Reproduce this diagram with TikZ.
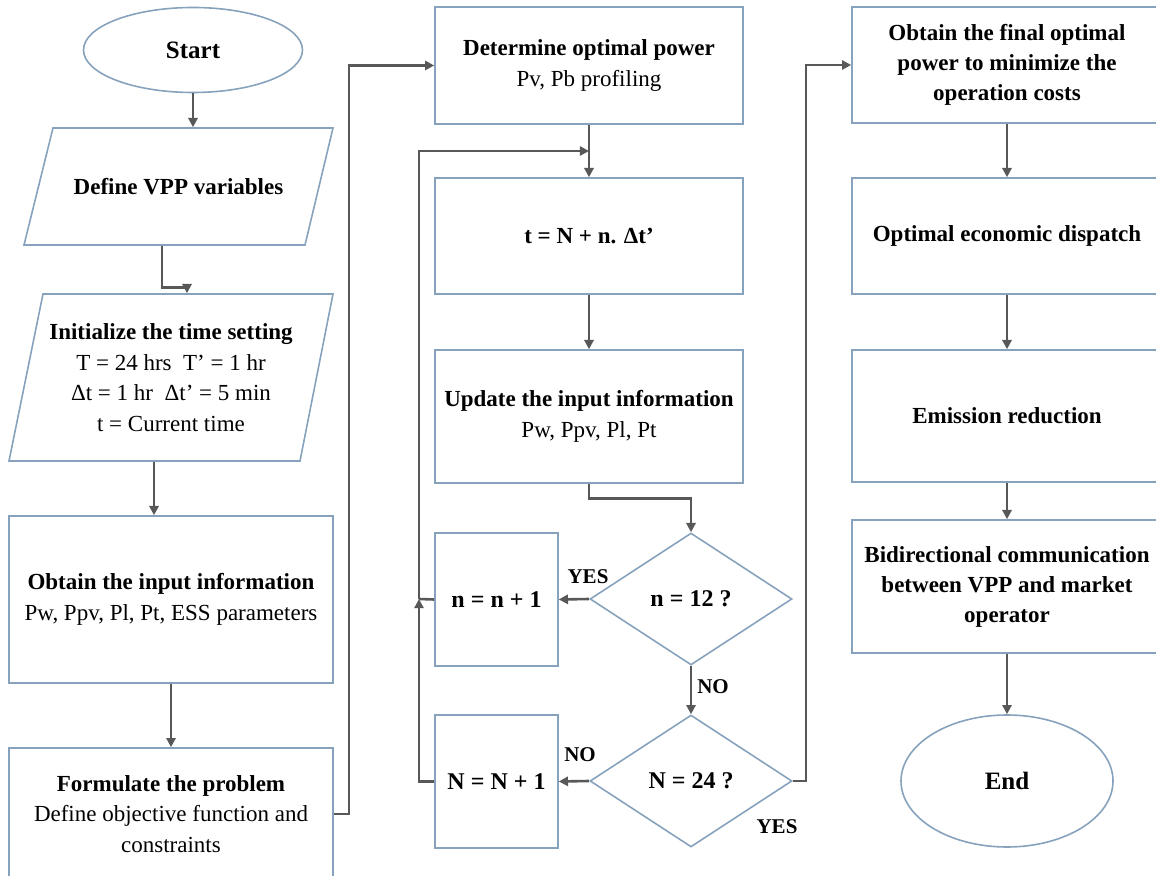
\documentclass[tikz,border=0pt]{standalone}
\usepackage{fontspec}
\setmainfont{Liberation Serif}
\usetikzlibrary{arrows.meta, shapes.geometric, calc}

\definecolor{boxline}{RGB}{135,162,188}
\definecolor{flowline}{RGB}{88,88,88}

\tikzset{
  block/.style={draw=boxline, line width=0.8pt, rectangle, align=center, inner sep=0pt,
                text=black, font=\fontsize{11.5}{15.3}\selectfont},
  terminal/.style={block, ellipse, font=\fontsize{12.5}{15}\selectfont\bfseries},
  decision/.style={block, diamond, font=\fontsize{12}{15}\selectfont\bfseries},
  inout/.style={block, draw=none},
  flow/.style={draw=flowline, line width=1.3pt, -{Triangle[length=4.6pt,width=4.6pt]}},
  joint/.style={draw=flowline, line width=1.3pt},
  answer/.style={text=black, font=\fontsize{10.5}{12}\selectfont\bfseries}
}

\begin{document}
\begin{tikzpicture}[x=0.5pt, y=-0.5pt]
            % Frame of the picture (the boxes on the right and at the bottom are cut off)
            \clip (0,0) rectangle (1156,876);

            % Left column
            \node[terminal, minimum width=109.5pt, minimum height=42.5pt] (start) at (193,50) {Start};

            % Draw the two parallelograms
            \draw[draw=boxline, line width=0.8pt] (53,128) -- (333,128) -- (305,245) -- (24,245) -- cycle;
            \node[inout, minimum width=140pt, minimum height=58.5pt] (define) at (178.5,186.5)
                {\textbf{Define VPP variables}};

            \draw[draw=boxline, line width=0.8pt] (43,294) -- (333,294) -- (300,461) -- (9,461) -- cycle;
            \node[inout, minimum width=145pt, minimum height=83.5pt] (init) at (171,377.5)
                {\textbf{Initialize the time setting}\\
                 T = 24 hrs\enspace T’ = 1 hr\\
                 Δt = 1 hr\enspace Δt’ = 5 min\\
                 t = Current time};

            \node[block, minimum width=162pt, minimum height=83.5pt] (obtain) at (171,599.5)
                {\textbf{Obtain the input information}\\ Pw, Ppv, Pl, Pt, ESS parameters};

            \node[block, minimum width=162pt, minimum height=66pt] (formulate) at (171,814)
                {\textbf{Formulate the problem}\\ Define objective function and\\ constraints};

            % Middle column
            \node[block, minimum width=154pt, minimum height=58.5pt] (determine) at (589,65.5)
                {\textbf{Determine optimal power}\\ Pv, Pb profiling};

            \node[block, minimum width=154pt, minimum height=58pt] (update time) at (589,236)
                {\textbf{t = N + n. Δt’}};

            \node[block, minimum width=154pt, minimum height=66.5pt] (update) at (589,416.5)
                {\textbf{Update the input information}\\ Pw, Ppv, Pl, Pt};

            \node[decision, minimum width=101pt, minimum height=66pt] (check n) at (691,599) {n = 12 ?};
            \node[block, minimum width=61.5pt, minimum height=66.5pt, font=\fontsize{12}{15}\selectfont\bfseries]
                (next n) at (496.5,599.5) {n = n + 1};

            \node[decision, minimum width=101pt, minimum height=66pt] (check N) at (691,781) {N = 24 ?};
            \node[block, minimum width=61.5pt, minimum height=66.5pt, font=\fontsize{12}{15}\selectfont\bfseries]
                (next N) at (496.5,781.5) {N = N + 1};

            % Right column
            \node[block, minimum width=155pt, minimum height=58pt, font=\fontsize{11.5}{15}\selectfont\bfseries]
                (final) at (1007,65) {Obtain the final optimal\\ power to minimize the\\ operation costs};
            \node[block, minimum width=155pt, minimum height=58pt, font=\fontsize{11.5}{15}\selectfont\bfseries]
                (dispatch) at (1007,236) {Optimal economic dispatch};
            \node[block, minimum width=155pt, minimum height=66pt, font=\fontsize{11.5}{15}\selectfont\bfseries]
                (emission) at (1007,416) {Emission reduction};
            \node[block, minimum width=155pt, minimum height=66.5pt, font=\fontsize{11.5}{15}\selectfont\bfseries]
                (bidir) at (1007,586.5) {Bidirectional communication\\ between VPP and market\\ operator};
            \node[terminal, minimum width=106pt, minimum height=66pt] (end) at (1007,781) {End};

            % Arrows of the left column
            \draw[flow] (start.south) -- (start.south |- define.north);
            \draw[flow] ([xshift=-8.25pt]define.south) -- ++(0,42) -| ([xshift=8pt]init.north);
            \draw[flow] ([xshift=-8.5pt]init.south) -- ([xshift=-8.5pt]init.south |- obtain.north);
            \draw[flow] (obtain.south) -- (formulate.north);

            % Formulate the problem goes over to the middle column
            \draw[flow] (formulate.east) -- ++(15,0) |- (determine.west);

            % Arrows of the middle column
            \coordinate (merge) at ($(determine.south)!0.5!(update time.north)$);
            \draw[flow] (determine.south) -- (update time.north);
            \draw[flow] (update time.south) -- (update.north);
            \draw[flow] (update.south) -- ++(0,15) -| (check n.north);

            % YES / NO branches
            \draw[flow] (check n.west) -- (next n.east);
            \node[answer] (yes n) at (588,577) {YES};
            \draw[flow] (check n.south) -- (check N.north);
            \node[answer] (no n) at (713,687) {NO};
            \draw[flow] (check N.west) -- (next N.east);
            \node[answer] (no N) at (580,755) {NO};
            \node[answer] (yes N) at (777,827) {YES};

            % Loop back to the time step
            \coordinate (loop) at (419,599);
            \draw[flow] (next N.west) -| (loop);
            \draw[joint] (next n.west) -- (loop);
            \draw[flow] (loop) |- (merge);

            % N = 24 reached: go to the right column
            \draw[flow] (check N.east) -- ++(13,0) |- (final.west);

            % Arrows of the right column
            \draw[flow] (final.south) -- (dispatch.north);
            \draw[flow] (dispatch.south) -- (emission.north);
            \draw[flow] (emission.south) -- (bidir.north);
            \draw[flow] (bidir.south) -- (end.north);
\end{tikzpicture}
\end{document}
